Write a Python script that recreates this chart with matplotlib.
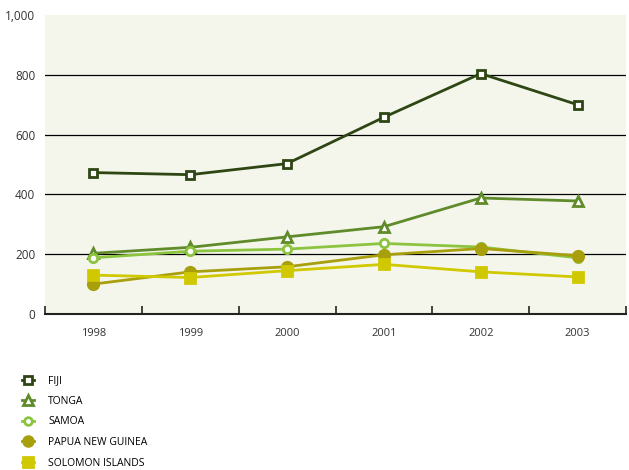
import matplotlib
matplotlib.use("Agg")
import matplotlib.pyplot as plt
from matplotlib.lines import Line2D

years = ["1998", "1999", "2000", "2001", "2002", "2003"]
fiji = [473, 466, 503, 658, 804, 700]
tonga = [203, 223, 258, 292, 388, 378]
samoa = [188, 210, 217, 236, 224, 188]
png = [100, 141, 158, 198, 219, 195]
solomon = [130, 122, 145, 166, 141, 124]
yticks = [0, 200, 400, 600, 800, 1000]
ytick_labels = ["0", "200", "400", "600", "800", "1,000"]

series = [
    ("FIJI", fiji, "#2e4614", "s", "white", 6),
    ("TONGA", tonga, "#5f8b2b", "^", "white", 7),
    ("SAMOA", samoa, "#8cc43f", "o", "white", 6),
    ("PAPUA NEW GUINEA", png, "#a89f0c", "o", None, 7.5),
    ("SOLOMON ISLANDS", solomon, "#d0c800", "s", None, 7.5),
]

plt.rcParams['font.family'] = ['Open Sans', 'DejaVu Sans']
fig = plt.figure(figsize=(6.29, 4.70), dpi=100)
ax = fig.add_axes([45/629, 1-314/470, 581/629, 299/470])
ax.set_facecolor("#f5f6eb")

x = [i + 0.5 for i in range(len(years))]
handles = []
for name, vals, col, mk, face, ms in series:
    fc = face if face else col
    ax.plot(x, vals, color=col, lw=2, marker=mk, markersize=ms,
            markerfacecolor=fc, markeredgecolor=col, markeredgewidth=2, zorder=3)
    handles.append(Line2D([], [], color=col, lw=2, marker=mk, markersize=ms - 0.5,
                          markerfacecolor=fc, markeredgecolor=col, markeredgewidth=2))

ax.set_xlim(0, len(years))
ax.set_ylim(0, 1000)
for yv in yticks[1:-1]:
    ax.axhline(yv, color="black", lw=0.9, zorder=1)
ax.set_yticks(yticks)
ax.set_yticklabels(ytick_labels, fontsize=8.5, color="#333333")
ax.tick_params(axis="y", length=0, pad=7)
ax.set_xticks(range(len(years) + 1))
ax.set_xticklabels([])
ax.set_xticks(x, minor=True)
ax.set_xticklabels(years, minor=True, fontsize=8, color="#333333")
ax.tick_params(axis="x", which="major", direction="in", length=6, width=1.2, color="#222222")
ax.tick_params(axis="x", which="minor", length=0, pad=10)
for s in ["top", "right", "left"]:
    ax.spines[s].set_visible(False)
ax.spines["bottom"].set_color("#222222")
ax.spines["bottom"].set_linewidth(1.5)

fig.legend(handles, [s[0] for s in series], loc="upper left",
           bbox_to_anchor=(16/629, 1-369/470), frameon=False, fontsize=7.5,
           handlelength=1.1, labelspacing=0.92, handletextpad=1.4,
           borderaxespad=0.2)

fig.savefig("out.png", dpi=100)
